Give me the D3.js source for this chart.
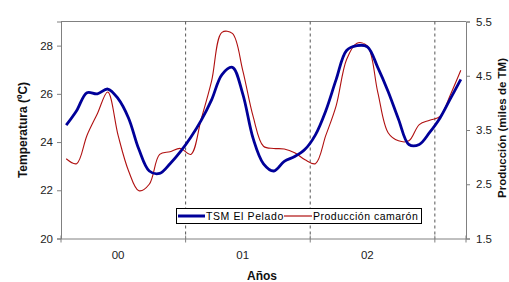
<!DOCTYPE html>
<html><head><meta charset="utf-8">
<script src="https://cdn.jsdelivr.net/npm/d3@7"></script>
<style>body{margin:0;background:#fff;} text{font-family:"Liberation Sans",Arial,sans-serif;}</style>
</head><body><svg id="c" width="509" height="282"></svg>
<script>
const yearLabels = ["00","01","02"];
const months = d3.range(39);
const tsm = [24.7,25.3,26.05,26.0,26.2,25.8,25.0,23.7,22.8,22.7,23.1,23.6,
             24.2,24.9,25.75,26.8,27.1,26.0,24.15,23.1,22.8,23.2,23.4,23.7,
             24.3,25.3,26.6,27.8,28.0,27.95,27.1,26.1,24.95,23.9,23.9,24.4,
             25.0,25.8,26.6];
const prod = [2.97,2.88,3.4,3.8,4.2,3.4,2.75,2.38,2.5,3.05,3.1,3.16,
              3.05,3.7,4.4,5.3,5.28,4.6,3.75,3.2,3.16,3.15,3.08,2.95,
              2.88,3.4,3.95,4.8,5.1,5.05,4.2,3.45,3.3,3.3,3.6,3.68,
              3.75,4.15,4.6];
const leftTicks = [20,22,24,26,28];
const rightTicks = [1.5,2.5,3.5,4.5,5.5];

const svg = d3.select("#c");
const L=61, R=466, T=21.5, B=238.5;
const x = d3.scaleBand().domain(months).range([L,R]);
const yL = d3.scaleLinear().domain([20,29]).range([B,T]);
const yR = d3.scaleLinear().domain([1.5,5.5]).range([B,T]);
const cx = i => x(i)+x.bandwidth()/2;
const axisCol="#808080", txtCol="#222";

svg.append("line").attr("x1",L).attr("x2",R).attr("y1",T).attr("y2",T).attr("stroke",axisCol);
[12,24,36].forEach(m=>{
  svg.append("line").attr("x1",x(m)).attr("x2",x(m)).attr("y1",T).attr("y2",B)
    .attr("stroke","#555").attr("stroke-dasharray","3,3");
});

const gl = svg.append("g").attr("transform",`translate(${L},0)`)
  .call(d3.axisLeft(yL).tickValues(leftTicks).tickSize(4).tickPadding(4));
const gr = svg.append("g").attr("transform",`translate(${R},0)`)
  .call(d3.axisRight(yR).tickValues(rightTicks).tickFormat(d3.format(".1f")).tickSize(4).tickPadding(6));
const gb = svg.append("g").attr("transform",`translate(0,${B})`)
  .call(d3.axisBottom(x).tickValues([]).tickSizeOuter(0));
[0,12,24,36].forEach(m=>{
  gb.append("line").attr("x1",x(m)).attr("x2",x(m)).attr("y1",-3).attr("y2",4).attr("stroke",axisCol);
});
gb.append("line").attr("x1",R).attr("x2",R).attr("y1",-3).attr("y2",4).attr("stroke",axisCol);
yearLabels.forEach((t,k)=>{
  gb.append("text").attr("x",cx(k*12+5)).attr("y",20).attr("text-anchor","middle")
    .attr("font-size","11.5px").attr("fill",txtCol).text(t);
});
[gl,gr,gb].forEach(g=>{
  g.selectAll(".domain").attr("stroke",axisCol);
  g.selectAll(".tick line").attr("stroke",axisCol);
  g.selectAll(".tick text").attr("font-size","11.5px").attr("fill",txtCol)
    .style("font-family","'Liberation Sans',Arial,sans-serif");
});

const lineT = d3.line().x((d,i)=>cx(i)).y(d=>yL(d)).curve(d3.curveCatmullRom.alpha(0.5));
const lineP = d3.line().x((d,i)=>cx(i)).y(d=>yR(d)).curve(d3.curveCatmullRom.alpha(0.5));
svg.append("path").datum(prod).attr("d",lineP).attr("fill","none").attr("stroke","#b01010").attr("stroke-width",1.1);
svg.append("path").datum(tsm).attr("d",lineT).attr("fill","none").attr("stroke","#000099").attr("stroke-width",2.8);

const lg = svg.append("g");
lg.append("rect").attr("x",176.5).attr("y",208.5).attr("width",245).attr("height",15)
  .attr("fill","#fff").attr("stroke","#000").attr("stroke-width",1);
lg.append("line").attr("x1",178).attr("x2",205).attr("y1",216).attr("y2",216).attr("stroke","#000099").attr("stroke-width",3);
lg.append("text").attr("x",206).attr("y",220).attr("font-size","10.5px").attr("letter-spacing","0.6px").attr("fill","#000").text("TSM El Pelado");
lg.append("line").attr("x1",284).attr("x2",312).attr("y1",216).attr("y2",216).attr("stroke","#b01010").attr("stroke-width",1.2);
lg.append("text").attr("x",313).attr("y",220).attr("font-size","10.5px").attr("letter-spacing","0.5px").attr("fill","#000").text("Producción camarón");

svg.append("text").attr("x",262).attr("y",280).attr("text-anchor","middle")
  .attr("font-size","12px").attr("font-weight","bold").attr("fill","#111").text("Años");
svg.append("text").attr("transform","translate(27,130) rotate(-90)").attr("text-anchor","middle")
  .attr("font-size","12px").attr("font-weight","bold").attr("fill","#111").text("Temperatura (ºC)");
svg.append("text").attr("transform","translate(505.5,128) rotate(-90)").attr("text-anchor","middle")
  .attr("font-size","11.5px").attr("font-weight","bold").attr("fill","#111").text("Producción (miles de TM)");
</script></body></html>
